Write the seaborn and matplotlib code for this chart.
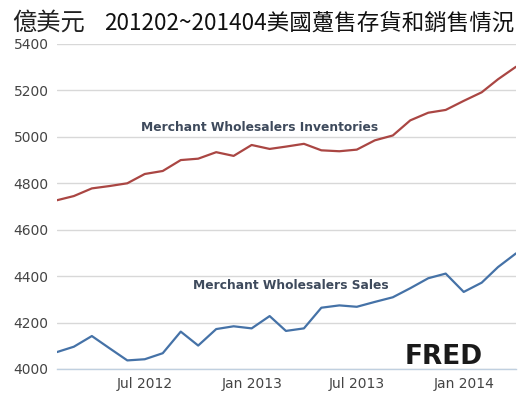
import matplotlib
matplotlib.use("Agg")
import matplotlib.pyplot as plt
import matplotlib.dates as mdates
import numpy as np
import pandas as pd
import seaborn as sns

# Monthly data, Feb 2012 - Apr 2014 (billions of USD)
months = pd.date_range("2012-02-01", "2014-04-01", freq="MS")
inventories = [4727, 4745, 4778, 4788, 4800, 4840, 4853, 4900, 4906, 4934,
               4918, 4965, 4948, 4958, 4970, 4942, 4938, 4945, 4985, 5006,
               5071, 5104, 5116, 5155, 5192, 5248, 5302]
sales = [4073, 4096, 4142, 4090, 4037, 4042, 4068, 4161, 4101, 4172,
         4184, 4175, 4228, 4164, 4175, 4264, 4274, 4268, 4289, 4309,
         4348, 4391, 4411, 4332, 4372, 4439, 4498]
tick_dates = pd.to_datetime(["2012-07-01", "2013-01-01", "2013-07-01", "2014-01-01"])
y_ticks = [4000, 4200, 4400, 4600, 4800, 5000, 5200, 5400]

df = pd.DataFrame({"date": months, "inventories": inventories, "sales": sales})

sns.set_style("white")
plt.rcParams["font.family"] = ["DejaVu Sans", "Noto Sans CJK TC"]

fig = plt.figure(figsize=(5.26, 3.96), dpi=100)
ax = fig.add_axes([57 / 526, 1 - 369 / 396, 459 / 526, 325 / 396])

sns.lineplot(data=df, x="date", y="inventories", ax=ax, color="#AA4643", linewidth=1.6)
sns.lineplot(data=df, x="date", y="sales", ax=ax, color="#4572A7", linewidth=1.6)

ax.set_xlim(months[0], months[-1])
ax.set_ylim(4000, 5400)
ax.set_yticks(y_ticks)
ax.set_xticks(tick_dates)
ax.xaxis.set_major_formatter(mdates.DateFormatter("%b %Y"))
ax.set_xlabel("")
ax.set_ylabel("")

ax.grid(axis="y", color="#D8D8D8", linewidth=1)
ax.set_axisbelow(True)
for side in ["top", "right", "left"]:
    ax.spines[side].set_visible(False)
ax.spines["bottom"].set_color("#C0D0E0")
ax.spines["bottom"].set_linewidth(1)

ax.tick_params(axis="y", length=0, pad=6, labelsize=10, labelcolor="#444444")
ax.tick_params(axis="x", length=4, width=1, color="#C0D0E0", pad=2,
               labelsize=10, labelcolor="#444444")

# Series labels
ax.text(pd.Timestamp("2013-01-15"), 5042, "Merchant Wholesalers Inventories",
        ha="center", va="center", fontsize=8.8, fontweight="bold", color="#3E4A5C")
ax.text(pd.Timestamp("2013-03-10"), 4360, "Merchant Wholesalers Sales",
        ha="center", va="center", fontsize=8.8, fontweight="bold", color="#3E4A5C")

# Titles
fig.text(12 / 526, 1 - 23 / 396, "億美元", ha="left", va="center",
         fontsize=17.5, family=["Noto Sans CJK TC", "DejaVu Sans"], color="#222222")
fig.text(309 / 526, 1 - 23 / 396, "201202~201404美國躉售存貨和銷售情況",
         ha="center", va="center", fontsize=16.2,
         family=["Noto Sans CJK TC", "DejaVu Sans"], color="#111111")

# FRED mark
fig.text(405 / 526, 1 - 357 / 396, "FRED", ha="left", va="center",
         fontsize=19, fontweight="heavy", color="#1A1A1A")

fig.savefig("out.png", dpi=100)
